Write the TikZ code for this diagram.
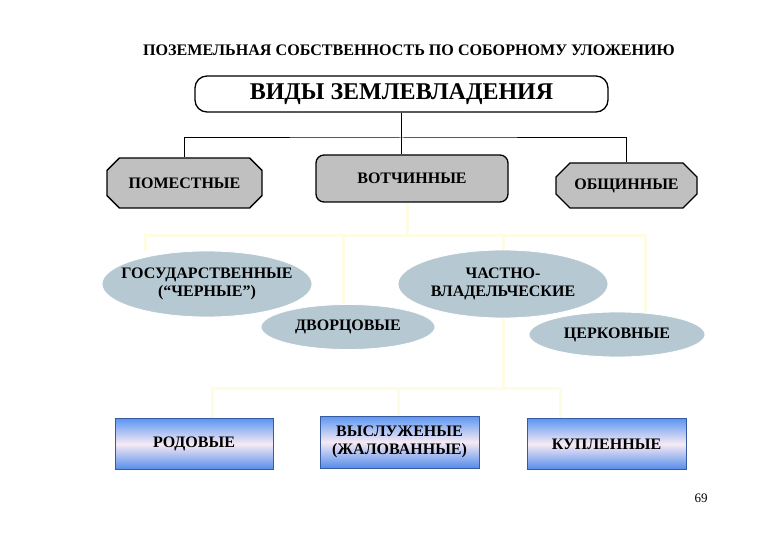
\documentclass[tikz,border=0pt]{standalone}
\usepackage{fontspec}
\setmainfont{Liberation Serif}
\usetikzlibrary{shapes.geometric,shapes.misc,backgrounds}
\definecolor{grayfill}{RGB}{192,192,192}
\definecolor{ellfill}{RGB}{182,201,211}
\definecolor{ylw}{RGB}{255,252,228}
\definecolor{bltop}{RGB}{92,150,242}
\definecolor{blbot}{RGB}{84,140,236}
\definecolor{pnk}{RGB}{246,234,244}
\definecolor{blline}{RGB}{55,90,160}
\tikzset{
  boxfont/.style={font=\fontsize{16}{18}\selectfont\bfseries},
  graybox/.style={chamfered rectangle, chamfered rectangle xsep=7pt, chamfered rectangle ysep=7pt,
    draw=black, line width=1.3pt, fill=grayfill, inner sep=0pt, align=center, boxfont},
  grayround/.style={rectangle, rounded corners=8pt, draw=black, line width=1.3pt, fill=grayfill,
    inner sep=0pt, align=center, boxfont},
  ell/.style={ellipse, fill=ellfill, draw=white, line width=0.8pt, inner sep=0pt, align=center, boxfont},
  bluebox/.style={rectangle, draw=blline, line width=0.8pt, top color=bltop, bottom color=blbot,
    middle color=pnk, inner sep=0pt, align=center, boxfont},
  blk/.style={draw=black, line width=1pt},
  ylwline/.style={draw=ylw, line width=3pt}
}
\begin{document}
\begin{tikzpicture}[x=1pt,y=-1pt]
\useasboundingbox (0,0) rectangle (780,540);
% title
\node[font=\fontsize{16.1}{18}\selectfont\bfseries] (title) at (409,50) {ПОЗЕМЕЛЬНАЯ СОБСТВЕННОСТЬ ПО СОБОРНОМУ УЛОЖЕНИЮ};
% top box
\node[rectangle, rounded corners=12pt, draw=black, line width=1.3pt, fill=white,
  minimum width=413pt, minimum height=36pt, inner sep=0pt,
  font=\fontsize{24}{28}\selectfont\bfseries] (vid) at (401.5,94) {ВИДЫ ЗЕМЛЕВЛАДЕНИЯ};
% second level
\node[graybox, minimum width=155pt, minimum height=50pt] (pom) at (184.5,183) {ПОМЕСТНЫЕ};
\node[grayround, minimum width=192pt, minimum height=47pt] (vot) at (412,178.5) {ВОТЧИННЫЕ};
\node[graybox, minimum width=141pt, minimum height=45pt] (obs) at (626.5,185.5) {ОБЩИННЫЕ};
% black connectors
\draw[blk] (vid.south) -- (vid.south |- vot.north);
\draw[blk] (pom.north) |- (vid.south |- 0,138) -| (obs.north);
% ellipses
\node[ell, inner xsep=-16pt, minimum width=210pt, minimum height=66pt] (gos) at (207,284) {ГОСУДАРСТВЕННЫЕ\\(“ЧЕРНЫЕ”)};
\node[ell, inner xsep=-10pt, minimum width=210pt, minimum height=68pt] (cha) at (503,284) {ЧАСТНО-\\ВЛАДЕЛЬЧЕСКИЕ};
\node[ell, minimum width=174pt, minimum height=45pt] (dvo) at (348,327) {ДВОРЦОВЫЕ};
\node[ell, minimum width=176pt, minimum height=45pt] (cer) at (617,334.5) {ЦЕРКОВНЫЕ};
% bottom boxes
\node[bluebox, minimum width=158pt, minimum height=51pt] (rod) at (194,444) {РОДОВЫЕ};
\node[bluebox, minimum width=159pt, minimum height=52pt] (vys) at (399.5,442) {ВЫСЛУЖЕНЫЕ\\(ЖАЛОВАННЫЕ)};
\node[bluebox, minimum width=159pt, minimum height=51pt] (kup) at (606.5,444) {КУПЛЕННЫЕ};
% page number
\node[font=\fontsize{13}{15}\selectfont] (pg) at (701,498) {69};
% yellow connectors
\begin{pgfonlayer}{background}
\draw[ylwline] (vot.south -| 407,0) -- (407,236);
\draw[ylwline] (gos.north -| 145,0) |- (407,236) -| (cer.north -| 645,0);
\draw[ylwline] (dvo.north -| 343,0) -- (343,236);
\draw[ylwline] (cha.north -| 503,0) -- (503,236);
\draw[ylwline] (cha.south -| 503,0) -- (503,389);
\draw[ylwline] (rod.north -| 212,0) |- (503,389) -| (kup.north -| 560,0);
\draw[ylwline] (vys.north -| 398,0) -- (398,389);
\end{pgfonlayer}
\end{tikzpicture}
\end{document}
